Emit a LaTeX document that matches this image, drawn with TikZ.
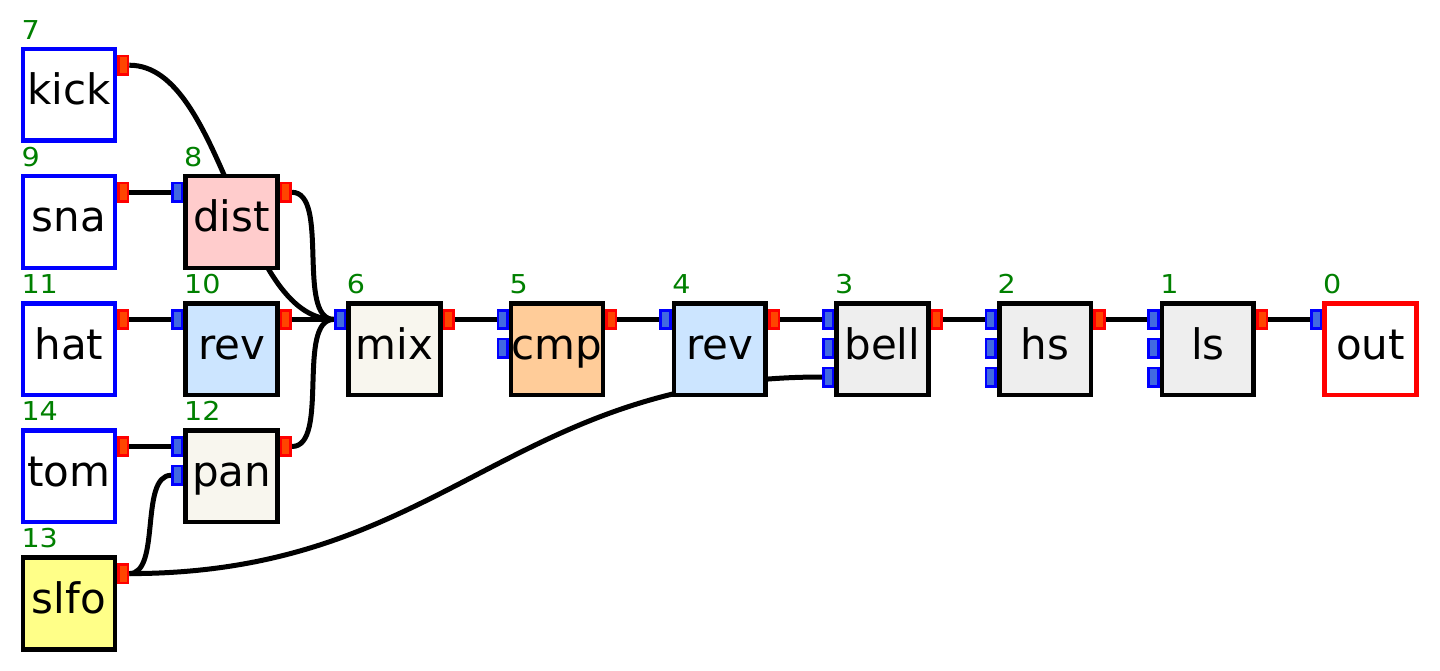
\documentclass[tikz,border=0pt]{standalone}
\usepackage{fontspec}
\setmainfont{DejaVu Sans}
\newfontfamily\numfont[FakeStretch=1.1]{DejaVu Sans}
\usetikzlibrary{calc,backgrounds}
\definecolor{portred}{HTML}{FF4500}
\definecolor{portblue}{HTML}{4169E1}
\definecolor{numgreen}{HTML}{008000}
\definecolor{distfill}{HTML}{FFCCCC}
\definecolor{revfill}{HTML}{CCE5FF}
\definecolor{mixfill}{HTML}{F8F6EE}
\definecolor{cmpfill}{HTML}{FFCC99}
\definecolor{grayfill}{HTML}{EEEEEE}
\definecolor{lfofill}{HTML}{FFFF88}
\tikzset{
  blk/.style={draw=black, line width=4.6pt, minimum width=91.8pt, minimum height=91.8pt,
    inner sep=0pt, font=\fontsize{42}{50}\selectfont, text height=31pt, text depth=11pt},
  srcblk/.style={blk, draw=blue, fill=white},
  lfoblk/.style={blk, fill=lfofill},
  distblk/.style={blk, fill=distfill},
  revblk/.style={blk, fill=revfill},
  mixblk/.style={blk, fill=mixfill},
  cmpblk/.style={blk, fill=cmpfill},
  grayblk/.style={blk, fill=grayfill},
  outblk/.style={blk, draw=red, fill=white},
  inport/.style={draw=blue, fill=portblue, line width=2.6pt, minimum width=9.6pt,
    minimum height=18.4pt, inner sep=0pt},
  outport/.style={draw=red, fill=portred, line width=2.6pt, minimum width=9.6pt,
    minimum height=18.4pt, inner sep=0pt},
  numtxt/.style={text=numgreen, font=\numfont\fontsize{26}{30}\selectfont, inner sep=0pt, anchor=base west},
  wire/.style={draw=black, line width=5pt}
}
\newcommand\inport[3]{\node[inport] (#1-i#2) at ($(#1.center)+(-54.3,#3)$) {};}
\newcommand\outport[1]{\node[outport] (#1-o) at ($(#1.center)+(54.3,-29.7)$) {};}
\newcommand\numlbl[2]{\node[numtxt] (#1-n) at ($(#1.north west)+(0.6,-7.4)$) {#2};}
\begin{document}
\begin{tikzpicture}[x=1pt, y=-1pt]
\useasboundingbox (0,0) rectangle (1440,671);
% blocks
\node[srcblk] (kick) at (68.9,94.9) {kick};
\node[srcblk] (sna) at (68.9,222.0) {sna};
\node[srcblk] (hat) at (68.9,349.1) {hat};
\node[srcblk] (tom) at (68.9,476.2) {tom};
\node[lfoblk] (slfo) at (68.9,603.3) {slfo};
\node[distblk] (dist) at (231.6,222.0) {dist};
\node[revblk] (revA) at (231.6,349.1) {rev};
\node[mixblk] (pan) at (231.6,476.2) {pan};
\node[mixblk] (mix) at (394.3,349.1) {mix};
\node[cmpblk] (cmp) at (557.0,349.1) {cmp};
\node[revblk] (revB) at (719.7,349.1) {rev};
\node[grayblk] (bell) at (882.4,349.1) {bell};
\node[grayblk] (hs) at (1045.1,349.1) {hs};
\node[grayblk] (ls) at (1207.8,349.1) {ls};
\node[outblk] (out) at (1370.5,349.1) {out};
% numbers
\numlbl{kick}{7}
\numlbl{sna}{9}
\numlbl{hat}{11}
\numlbl{tom}{14}
\numlbl{slfo}{13}
\numlbl{dist}{8}
\numlbl{revA}{10}
\numlbl{pan}{12}
\numlbl{mix}{6}
\numlbl{cmp}{5}
\numlbl{revB}{4}
\numlbl{bell}{3}
\numlbl{hs}{2}
\numlbl{ls}{1}
\numlbl{out}{0}
% ports
\outport{kick}
\outport{sna}
\outport{hat}
\outport{tom}
\outport{slfo}
\inport{dist}{1}{-29.7}\outport{dist}
\inport{revA}{1}{-29.7}\outport{revA}
\inport{pan}{1}{-29.7}\inport{pan}{2}{-0.9}\outport{pan}
\inport{mix}{1}{-29.7}\outport{mix}
\inport{cmp}{1}{-29.7}\inport{cmp}{2}{-0.9}\outport{cmp}
\inport{revB}{1}{-29.7}\outport{revB}
\inport{bell}{1}{-29.7}\inport{bell}{2}{-0.9}\inport{bell}{3}{27.9}\outport{bell}
\inport{hs}{1}{-29.7}\inport{hs}{2}{-0.9}\inport{hs}{3}{27.9}\outport{hs}
\inport{ls}{1}{-29.7}\inport{ls}{2}{-0.9}\inport{ls}{3}{27.9}\outport{ls}
\inport{out}{1}{-29.7}
% wires
\begin{pgfonlayer}{background}
\fill[white] (0,0) rectangle (1440,671);
\draw[wire] (kick-o.east) .. controls +(95,0) and +(-95,0) .. (mix-i1.west);
\draw[wire] (sna-o.east) -- (dist-i1.west);
\draw[wire] (dist-o.east) .. controls +(38,0) and +(-38,0) .. (mix-i1.west);
\draw[wire] (hat-o.east) -- (revA-i1.west);
\draw[wire] (revA-o.east) -- (mix-i1.west);
\draw[wire] (tom-o.east) -- (pan-i1.west);
\draw[wire] (pan-o.east) .. controls +(38,0) and +(-38,0) .. (mix-i1.west);
\draw[wire] (slfo-o.east) .. controls +(32,0) and +(-32,0) .. (pan-i2.west);
\draw[wire] (slfo-o.east) .. controls +(315,0) and +(-315,0) .. (bell-i3.west);
\draw[wire] (mix-o.east) -- (cmp-i1.west);
\draw[wire] (cmp-o.east) -- (revB-i1.west);
\draw[wire] (revB-o.east) -- (bell-i1.west);
\draw[wire] (bell-o.east) -- (hs-i1.west);
\draw[wire] (hs-o.east) -- (ls-i1.west);
\draw[wire] (ls-o.east) -- (out-i1.west);
\end{pgfonlayer}
\end{tikzpicture}
\end{document}
